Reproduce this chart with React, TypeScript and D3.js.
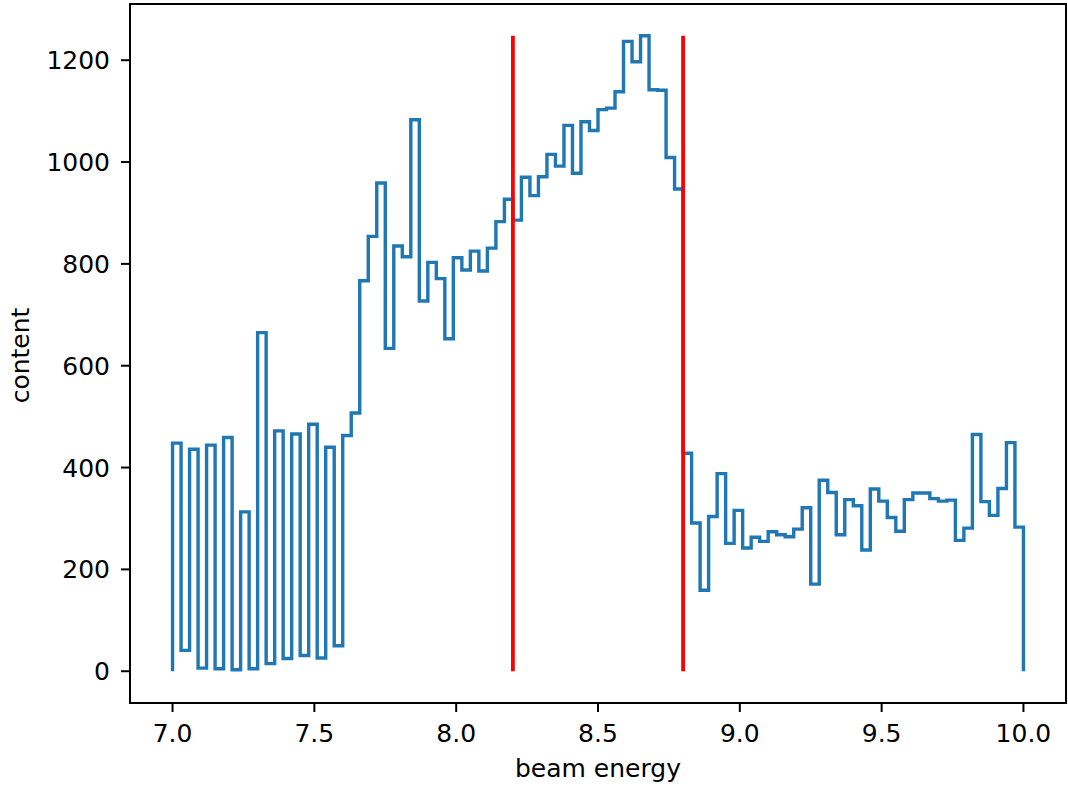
import React from "react";
import * as d3 from "d3";

// Histogram of beam energy: 100 bins from 7.0 to 10.0
const binStart = 7.0;
const binEnd = 10.0;
const counts: number[] = [
  448, 41, 436, 6, 444, 5, 459, 3, 313, 5,
  665, 15, 472, 25, 466, 31, 485, 26, 440, 50,
  463, 507, 767, 854, 959, 634, 835, 814, 1083, 727,
  803, 771, 653, 812, 788, 825, 786, 831, 883, 927,
  886, 970, 934, 971, 1015, 992, 1072, 978, 1079, 1062,
  1103, 1106, 1138, 1237, 1197, 1248, 1142, 1141, 1009, 947,
  428, 291, 159, 304, 388, 251, 316, 242, 263, 255,
  274, 268, 264, 279, 321, 171, 375, 351, 268, 337,
  325, 238, 358, 334, 302, 275, 337, 350, 350, 339,
  334, 336, 257, 281, 465, 333, 306, 359, 449, 283,
];
const cutLines: number[] = [8.2, 8.8];
const xTicks: number[] = [7.0, 7.5, 8.0, 8.5, 9.0, 9.5, 10.0];
const yTicks: number[] = [0, 200, 400, 600, 800, 1000, 1200];
const xLabel = "beam energy";
const yLabel = "content";

const W = 1068;
const H = 787;
const left = 130;
const right = 1066;
const top = 4;
const bottom = 703;
const FS = 25;
const FONT = "DejaVu Sans, Liberation Sans, sans-serif";

export default function App() {
  const n = counts.length;
  const bw = (binEnd - binStart) / n;
  const edges = d3.range(n + 1).map((i) => binStart + i * bw);
  const maxV = d3.max(counts) as number;
  const xPad = (binEnd - binStart) * 0.05;
  const x = d3.scaleLinear().domain([binStart - xPad, binEnd + xPad]).range([left, right]);
  const y = d3.scaleLinear().domain([-0.05 * maxV, 1.05 * maxV]).range([bottom, top]);

  // step path
  const pts: [number, number][] = [[edges[0], 0]];
  counts.forEach((c, i) => {
    pts.push([edges[i], c]);
    pts.push([edges[i + 1], c]);
  });
  pts.push([edges[n], 0]);
  const line = d3
    .line<[number, number]>()
    .x((d) => x(d[0]))
    .y((d) => y(d[1]));
  const path = line(pts) || "";

  return (
    <div style={{ position: "absolute", left: 0, top: 0 }}>
      <svg width={W} height={H} style={{ display: "block", background: "#fff" }}>
        <rect x={0} y={0} width={W} height={H} fill="#fff" />
        <path d={path} fill="none" stroke="#1f77b4" strokeWidth={3.4} strokeLinejoin="miter" strokeLinecap="butt" />
        {cutLines.map((v) => (
          <line key={v} x1={x(v)} x2={x(v)} y1={y(0)} y2={y(maxV)} stroke="#ff0000" strokeWidth={3.8} />
        ))}
        <rect x={left} y={top} width={right - left} height={bottom - top} fill="none" stroke="#000" strokeWidth={2} />
        {xTicks.map((t) => (
          <g key={"x" + t}>
            <line x1={x(t)} x2={x(t)} y1={bottom} y2={bottom + 9} stroke="#000" strokeWidth={2} />
            <text x={x(t)} y={741.5} textAnchor="middle" fontFamily={FONT} fontSize={FS} fill="#000">
              {t.toFixed(1)}
            </text>
          </g>
        ))}
        {yTicks.map((t) => (
          <g key={"y" + t}>
            <line x1={left - 9} x2={left} y1={y(t)} y2={y(t)} stroke="#000" strokeWidth={2} />
            <text x={110} y={y(t) + 9.1} textAnchor="end" fontFamily={FONT} fontSize={FS} fill="#000">
              {t}
            </text>
          </g>
        ))}
        <text x={(left + right) / 2} y={776.5} textAnchor="middle" fontFamily={FONT} fontSize={FS} fill="#000">
          {xLabel}
        </text>
        <text
          transform={`translate(28.5, ${(top + bottom) / 2 + 2}) rotate(-90)`}
          textAnchor="middle"
          fontFamily={FONT}
          fontSize={FS}
          fill="#000"
        >
          {yLabel}
        </text>
      </svg>
    </div>
  );
}
